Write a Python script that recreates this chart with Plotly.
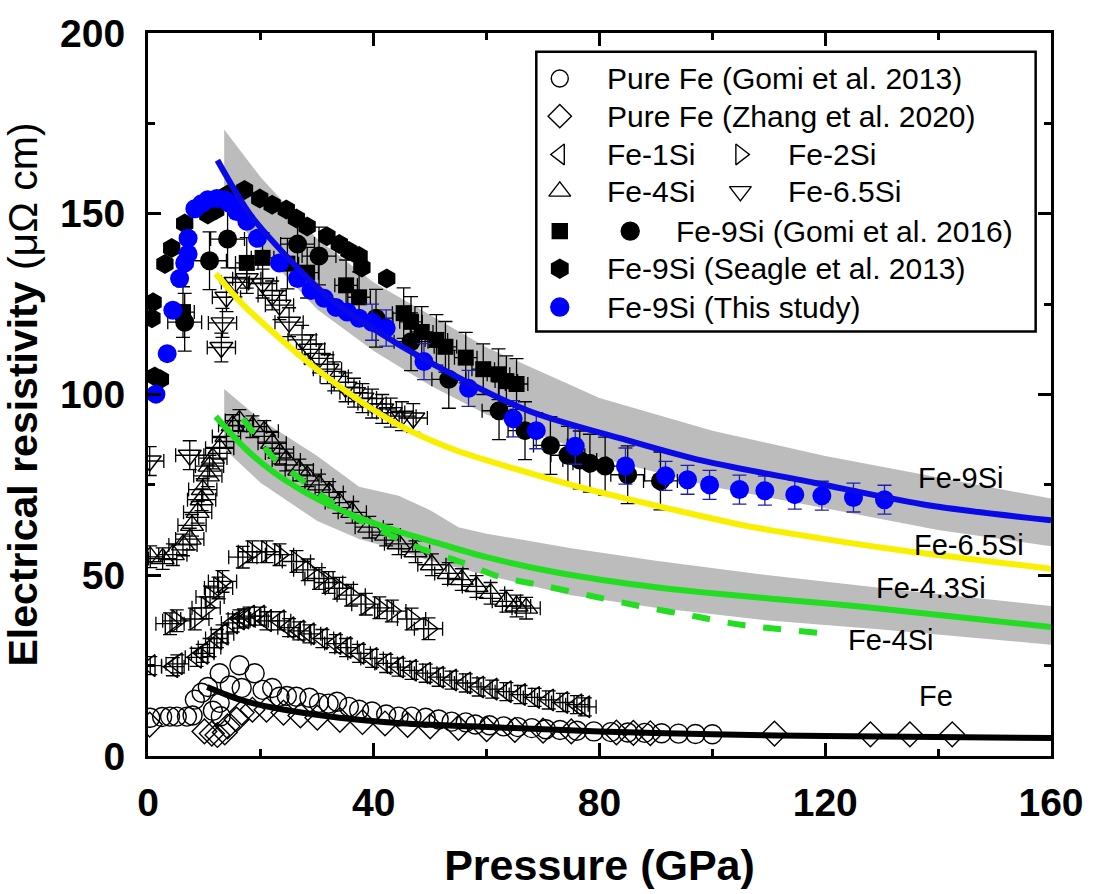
import plotly.graph_objects as go

# ---------------- data (pressure in GPa, resistivity in micro-ohm cm) ----------------
fe_gomi_p = [0.4, 2.5, 3.9, 5.1, 6.9, 7.9, 8.3, 9.5, 10.6, 11.5, 12.7, 12.7, 12.9, 14.5, 16.2, 16.6,
             18.9, 20.3, 22.0, 23.3, 24.6, 26.3, 28.6, 30.3, 32.0, 33.5, 35.6, 37.4, 39.7, 42.2,
             44.4, 46.7, 49.2, 51.5, 53.8, 56.3, 58.0, 60.5, 63.0, 65.5, 68.0, 70.5, 73.0, 76.0,
             79.0, 82.0, 85.0, 88.0, 91.0, 94.0, 97.0, 100.0]
fe_gomi_r = [10.6, 10.8, 10.9, 10.9, 10.9, 11.2, 15.6, 17.5, 19.1, 12.5, 22.9, 14.7, 11.0, 19.5, 25.1, 18.8,
             22.9, 18.3, 18.8, 16.4, 16.6, 16.4, 16.1, 14.7, 14.5, 15.0, 13.6, 12.8, 12.3, 11.5,
             10.9, 10.9, 10.6, 10.1, 9.5, 9.3, 8.7, 8.5, 8.2, 8.0, 7.7, 7.4, 7.2, 7.0,
             6.8, 6.6, 6.5, 6.4, 6.3, 6.2, 6.1, 6.0]

fe_zhang_p = [0.3, 10.0, 11.3, 12.3, 13.6, 14.1, 15.7, 16.6, 18.5, 21.0, 24.0, 27.0, 30.0, 34.0, 38.0,
              42.0, 46.0, 50.0, 55.0, 60.0, 65.0, 70.0, 75.0, 83.0, 86.0, 89.0, 111.0, 128.0, 135.0, 142.5]
fe_zhang_r = [8.7, 6.8, 6.2, 5.8, 6.5, 8.2, 10.1, 12.0, 12.8, 12.8, 12.0, 11.2, 10.6, 10.0, 9.4,
              9.0, 8.6, 8.2, 7.8, 7.4, 7.2, 7.0, 6.8, 6.5, 6.4, 6.3, 6.2, 6.0, 6.0, 6.0]

fe1si_p = [0.4, 4.4, 5.2, 8.6, 9.7, 10.9, 12.2, 13.2, 15.0, 16.2, 17.0, 18.0, 19.8, 21.0, 23.3, 25.0,
           26.8, 28.6, 30.9, 33.3, 35.1, 37.4, 39.7, 42.2, 44.4, 46.7, 49.2, 51.5, 53.8, 56.3,
           58.6, 61.0, 63.5, 66.0, 68.5, 71.0, 73.5, 76.0, 77.4]
fe1si_r = [25.0, 24.7, 25.5, 27.3, 28.4, 30.0, 32.5, 33.8, 36.8, 37.9, 38.2, 38.7, 38.7, 37.4, 37.4, 35.5,
           34.6, 33.8, 32.5, 31.1, 30.0, 28.4, 27.0, 25.6, 24.6, 23.7, 22.9, 21.8, 21.0, 20.2,
           19.1, 18.5, 17.8, 17.0, 16.2, 15.5, 14.8, 14.2, 13.6]

fe2si_p = [3.9, 5.1, 8.3, 10.3, 11.0, 12.5, 13.2, 16.8, 18.5, 21.0, 23.3, 26.3, 28.3, 30.3, 32.0,
           33.9, 36.0, 38.6, 41.0, 43.2, 46.7, 49.7]
fe2si_r = [36.6, 37.4, 37.9, 41.0, 44.0, 46.5, 48.3, 55.0, 56.5, 56.5, 55.7, 53.8, 51.5, 49.1, 48.0,
           46.4, 44.5, 42.0, 41.0, 40.1, 37.9, 35.2]

fe4si_p = [0.4, 2.6, 4.4, 6.2, 7.4, 7.8, 8.8, 9.5, 9.7, 10.6, 10.9, 11.5, 12.7, 13.9, 15.0, 16.2,
           18.5, 20.6, 22.0, 23.3, 24.5, 26.8, 28.2, 30.3, 32.1, 33.9, 36.2, 39.2, 42.2, 44.4,
           47.4, 50.3, 53.3, 55.6, 58.2, 60.7, 63.5, 65.3, 67.0]
fe4si_r = [55.1, 54.6, 55.7, 58.4, 60.0, 63.8, 67.4, 70.9, 73.7, 77.5, 80.2, 82.4, 85.1, 88.4, 91.4, 92.8,
           91.1, 89.8, 86.5, 83.8, 81.9, 79.1, 77.5, 75.0, 72.9, 70.1, 67.4, 63.3, 61.1, 58.7,
           56.5, 52.9, 50.5, 48.8, 46.9, 45.0, 42.8, 41.5, 40.9]

fe65si_p = [0.3, 7.4, 13.0, 13.2, 13.9, 15.5, 17.5, 20.3, 22.0, 23.3, 25.0, 27.3, 28.8, 30.3, 31.8,
            33.0, 35.0, 36.5, 38.0, 39.7, 41.5, 43.0, 45.0, 47.0]
fe65si_r = [81.6, 83.2, 113.0, 119.8, 126.9, 131.0, 132.0, 130.7, 127.4, 124.7, 120.0, 115.1, 112.5, 110.0, 107.0,
            105.0, 102.0, 100.5, 99.0, 97.5, 96.0, 95.0, 94.0, 93.5]

gomi16_sq_p = [6.2, 17.5, 20.3, 24.7, 28.2, 35.1, 37.4, 45.3, 46.6, 48.5, 51.1, 52.7, 56.3, 59.4, 62.1, 63.5, 65.3]
gomi16_sq_r = [122.8, 136.4, 137.8, 136.2, 133.7, 130.2, 126.9, 122.5, 120.1, 117.3, 115.1, 113.2, 110.2, 107.0,
               105.6, 103.7, 102.9]

gomi16_ci_p = [6.5, 10.9, 14.1, 26.5, 30.3, 40.4, 46.6, 53.3, 62.2, 66.8, 71.3, 74.4, 76.5, 78.3, 81.0, 85.0, 90.8]
gomi16_ci_r = [120.0, 137.0, 143.0, 141.6, 138.3, 121.1, 114.6, 104.2, 95.5, 90.0, 85.9, 83.2, 81.9, 81.0, 80.2,
               77.8, 76.1]

seagle_p = [0.9, 0.7, 1.2, 2.2, 3.0, 4.2, 6.5, 10.6, 12.0, 14.1, 17.1, 19.8, 22.0, 24.5, 26.3, 28.2, 31.7,
            33.9, 35.6, 37.4, 37.9, 42.3]
seagle_r = [125.5, 121.1, 105.0, 104.2, 136.1, 140.5, 147.3, 149.8, 151.0, 155.3, 156.6, 154.2, 152.5, 151.2,
            148.7, 146.5, 143.8, 141.6, 139.7, 138.3, 135.1, 132.1]

this_p = [1.4, 3.4, 4.4, 5.6, 6.5, 7.1, 7.1, 8.3, 9.5, 10.6, 12.2, 13.6, 14.5, 15.7, 17.5, 19.4, 23.3, 26.5,
          28.9, 31.2, 33.3, 35.3, 37.4, 39.7, 42.2, 48.9, 56.8, 64.7, 68.8, 75.7, 84.6, 91.7, 95.6, 99.5,
          104.8, 109.3, 114.6, 119.4, 125.0, 130.5]
this_r = [100.1, 111.3, 123.3, 132.1, 136.4, 138.9, 143.2, 151.4, 152.8, 153.9, 154.2, 153.9, 152.8, 150.6,
          147.9, 143.2, 136.4, 132.1, 128.8, 126.6, 124.1, 122.8, 121.1, 120.0, 118.4, 109.1, 101.7, 93.3,
          90.0, 85.7, 80.2, 77.5, 76.4, 75.0, 73.7, 73.4, 72.3, 72.0, 71.5, 70.9]
this_err = [0] * 23 + [5] * 8 + [4] * 9

# model curves
fe9si_fit_p = [12.3, 18.0, 24.5, 31.6, 39.7, 49.7, 67.4, 85.0, 97.4, 118.0, 138.5, 160.0]
fe9si_fit_r = [164.8, 150.0, 138.3, 127.4, 118.4, 109.1, 95.5, 87.3, 82.0, 75.6, 69.3, 65.2]

fe65si_fit_p = [12.0, 17.0, 22.0, 26.5, 30.9, 35.5, 39.7, 44.4, 50.0, 55.0, 65.1, 75.0, 85.5, 97.4, 106.2, 120.0, 133.0, 160.0]
fe65si_fit_r = [133.4, 124.6, 117.4, 111.3, 105.8, 100.5, 96.0, 91.6, 87.4, 84.3, 79.4, 75.0, 70.9, 66.6, 63.6, 60.0, 57.0, 51.8]

fe43si_fit_p = [12.0, 17.0, 22.0, 28.0, 33.9, 40.0, 45.0, 51.5, 60.0, 72.7, 90.3, 97.4, 110.0, 127.0, 160.0]
fe43si_fit_r = [93.9, 85.4, 78.8, 72.8, 68.2, 64.4, 61.8, 58.8, 55.0, 50.7, 46.6, 45.4, 43.6, 41.2, 35.7]

fe4si_fit_p = [16.8, 19.2, 22.0, 25.6, 35.0, 44.4, 48.5, 56.8, 62.0, 70.4, 78.8, 87.0, 97.4, 105.0, 118.7]
fe4si_fit_r = [93.3, 88.4, 82.9, 78.3, 67.5, 60.0, 57.3, 52.9, 49.7, 47.0, 44.2, 41.5, 38.5, 36.3, 34.1]

fe_fit_p = [10.5, 16.3, 22.0, 33.9, 45.7, 57.3, 80.0, 100.0, 120.0, 160.0]
fe_fit_r = [19.1, 15.6, 13.4, 10.6, 9.0, 8.2, 6.8, 6.0, 5.5, 5.0]

# uncertainty bands of the model curves
band9_p = [13.5, 20, 30, 40, 50, 60, 80, 100, 120, 140, 160]
band9_hi = [173.3, 160, 143, 131, 122, 113, 99, 90, 83, 77, 71.2]
band9_lo = [152.8, 140, 123.5, 112, 102.5, 94.5, 82.5, 74.5, 68.5, 62.5, 58]

band43_p = [13.5, 20, 30, 37.4, 44.4, 50, 55, 60, 75, 90, 110, 130, 160]
band43_hi = [101.5, 93, 83, 74.5, 72, 68, 63.3, 61.5, 57.5, 54, 50, 46.5, 41.5]
band43_lo = [85, 75.5, 65, 60, 57, 54, 52, 50, 44.5, 41, 37.5, 35, 30.8]

curve_labels = ["Fe-9Si", "Fe-6.5Si", "Fe-4.3Si", "Fe-4Si", "Fe"]
curve_label_p = [144.0, 145.4, 138.8, 131.6, 139.7]
curve_label_r = [77.0, 58.4, 46.4, 32.0, 16.5]

x_ticks = [0, 40, 80, 120, 160]
y_ticks = [0, 50, 100, 150, 200]

FONT = "Liberation Sans"
BLUE = "#0000ff"
GRAY = "#bcbcbc"

fig = go.Figure()

# gray bands
for bp, hi, lo in [(band9_p, band9_hi, band9_lo), (band43_p, band43_hi, band43_lo)]:
    fig.add_trace(go.Scatter(x=bp + bp[::-1], y=hi + lo[::-1], fill="toself", fillcolor=GRAY,
                             line=dict(width=0), mode="lines", hoverinfo="skip"))


def err(v):
    return dict(type="constant", value=v, thickness=1.3, width=7, color="black")


def open_series(p, r, symbol, size, ex=None, ey=None):
    fig.add_trace(go.Scatter(
        x=p, y=r, mode="markers",
        marker=dict(symbol=symbol, size=size, color="black", opacity=1,
                    line=dict(width=1.4, color="black")),
        error_x=err(ex) if ex else None, error_y=err(ey) if ey else None))


open_series(fe_gomi_p, fe_gomi_r, "circle-open", 19)
open_series(fe_zhang_p, fe_zhang_r, "diamond-open", 19)
open_series(fe1si_p, fe1si_r, "triangle-left-open", 19, 2.0, 2.5)
open_series(fe2si_p, fe2si_r, "triangle-right-open", 19, 2.5, 3.0)
open_series(fe4si_p, fe4si_r, "triangle-up-open", 20, 2.5, 3.0)
open_series(fe65si_p, fe65si_r, "triangle-down-open", 20, 2.5, 4.0)

fig.add_trace(go.Scatter(x=gomi16_sq_p, y=gomi16_sq_r, mode="markers",
                         marker=dict(symbol="square", size=16, color="black", opacity=1),
                         error_x=err(2.0), error_y=err(7.0)))
fig.add_trace(go.Scatter(x=gomi16_ci_p, y=gomi16_ci_r, mode="markers",
                         marker=dict(symbol="circle", size=19, color="black", opacity=1),
                         error_x=err(3.0), error_y=err(8.0)))
fig.add_trace(go.Scatter(x=seagle_p, y=seagle_r, mode="markers",
                         marker=dict(symbol="hexagon", size=20, color="black", opacity=1)))
fig.add_trace(go.Scatter(x=this_p, y=this_r, mode="markers",
                         marker=dict(symbol="circle", size=19, color=BLUE, opacity=1),
                         error_y=dict(type="data", array=this_err, thickness=1.3, width=7, color="#2020b0")))

# model curves
for cp, cr, col, dash in [(fe9si_fit_p, fe9si_fit_r, "#0a0ae6", "solid"),
                          (fe65si_fit_p, fe65si_fit_r, "#f8f000", "solid"),
                          (fe43si_fit_p, fe43si_fit_r, "#22dd22", "solid"),
                          (fe4si_fit_p, fe4si_fit_r, "#22dd22", "dash"),
                          (fe_fit_p, fe_fit_r, "black", "solid")]:
    fig.add_trace(go.Scatter(x=cp, y=cr, mode="lines",
                             line=dict(color=col, width=6, shape="spline", smoothing=0.8, dash=dash)))

for t, px, py in zip(curve_labels, curve_label_p, curve_label_r):
    fig.add_annotation(x=px, y=py, text=t, showarrow=False, xanchor="center", yanchor="middle",
                       font=dict(family=FONT, size=29, color="black"))

# ---------------- legend (drawn on an overlay axis with unit range) ----------------
leg_rows = [0.937, 0.885, 0.832, 0.781, 0.726, 0.674, 0.621]
leg_sym_x = [0.456, 0.456, 0.456, 0.656, 0.456, 0.656, 0.456, 0.534, 0.456, 0.456]
leg_sym_y = [leg_rows[0], leg_rows[1], leg_rows[2], leg_rows[2], leg_rows[3], leg_rows[3],
             leg_rows[4], leg_rows[4], leg_rows[5], leg_rows[6]]
leg_syms = ["circle-open", "diamond-open", "triangle-left-open", "triangle-right-open",
            "triangle-up-open", "triangle-down-open", "square", "circle", "hexagon", "circle"]
leg_sizes = [17, 18, 18, 18, 19, 19, 15, 18, 19, 18]
leg_colors = ["black"] * 9 + [BLUE]
fig.add_trace(go.Scatter(x=leg_sym_x, y=leg_sym_y, xaxis="x2", yaxis="y2", mode="markers",
                         marker=dict(symbol=leg_syms, size=leg_sizes, color=leg_colors, opacity=1,
                                     line=dict(width=1.4, color=leg_colors))))

leg_text = ["Pure Fe (Gomi et al. 2013)", "Pure Fe (Zhang et al. 2020)", "Fe-1Si", "Fe-2Si",
            "Fe-4Si", "Fe-6.5Si", "Fe-9Si (Gomi et al. 2016)", "Fe-9Si (Seagle et al. 2013)",
            "Fe-9Si (This study)"]
leg_text_x = [0.506, 0.506, 0.506, 0.706, 0.506, 0.706, 0.583, 0.506, 0.506]
leg_text_y = [leg_rows[0], leg_rows[1], leg_rows[2], leg_rows[2], leg_rows[3], leg_rows[3],
              leg_rows[4], leg_rows[5], leg_rows[6]]
for t, lx, ly in zip(leg_text, leg_text_x, leg_text_y):
    fig.add_annotation(x=lx, y=ly, xref="paper", yref="paper", text=t, showarrow=False,
                       xanchor="left", yanchor="middle", font=dict(family=FONT, size=30, color="black"))

fig.add_shape(type="rect", xref="paper", yref="paper", x0=0.430, x1=0.983, y0=0.587, y1=0.974,
              line=dict(color="black", width=2.5), fillcolor="rgba(0,0,0,0)", layer="above")

axis_common = dict(showline=True, linecolor="black", linewidth=3, mirror="allticks",
                   ticks="inside", ticklen=13, tickwidth=3, tickcolor="black",
                   showgrid=False, zeroline=False,
                   tickfont=dict(family=FONT, size=39, color="black", weight="bold"))

fig.update_layout(
    width=1096, height=894,
    margin=dict(l=148, r=41, t=24, b=137),
    paper_bgcolor="white", plot_bgcolor="white",
    showlegend=False,
    xaxis=dict(range=[0, 160], tickvals=x_ticks,
               minor=dict(ticks="inside", dtick=20, ticklen=7, tickwidth=2.5, tickcolor="black"),
               ticklabelstandoff=10,
               title=dict(text="<b>Pressure (GPa)</b>", standoff=28,
                          font=dict(family=FONT, size=43, color="black")),
               **axis_common),
    yaxis=dict(range=[0, 200], tickvals=y_ticks,
               minor=dict(ticks="inside", dtick=25, ticklen=7, tickwidth=2.5, tickcolor="black"),
               ticklabelstandoff=12,
               title=dict(text="<b>Electrical resistivity</b> (μΩ cm)", standoff=12,
                          font=dict(family=FONT, size=41, color="black")),
               **axis_common),
    xaxis2=dict(overlaying="x", range=[0, 1], visible=False),
    yaxis2=dict(overlaying="y", range=[0, 1], visible=False),
)

fig.write_html("out.html")
